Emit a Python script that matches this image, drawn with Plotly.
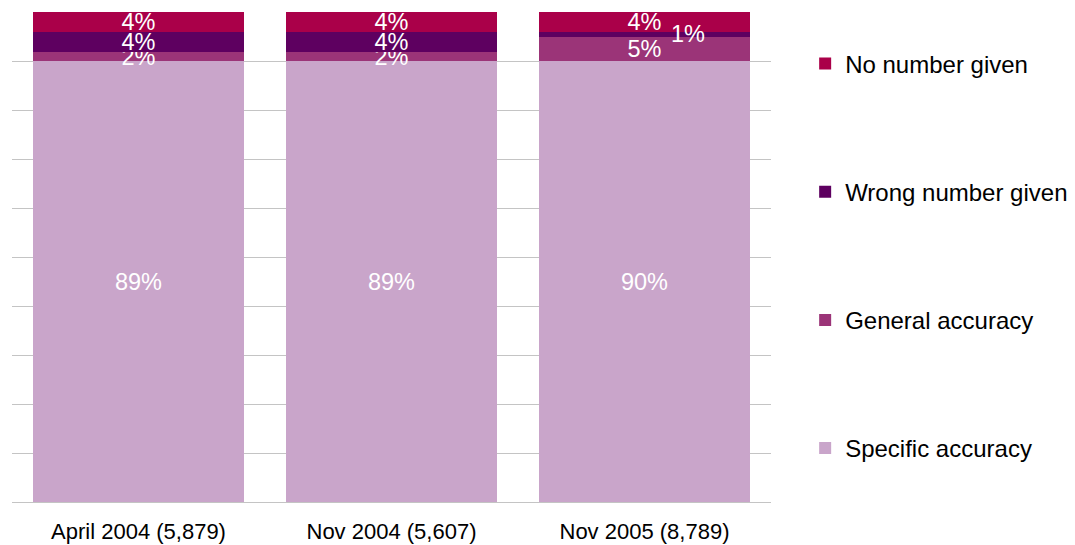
import plotly.graph_objects as go

categories = ["April 2004 (5,879)", "Nov 2004 (5,607)", "Nov 2005 (8,789)"]
series_names = ["Specific accuracy", "General accuracy", "Wrong number given", "No number given"]
specific = [89, 89, 90]
general = [2, 2, 5]
wrong = [4, 4, 1]
no_number = [4, 4, 4]
colors = ["#C9A5CA", "#9B3478", "#5E0060", "#AA0049"]

series_values = [specific, general, wrong, no_number]

FONT = "Liberation Sans, Arial, sans-serif"
LBL = 23.5
fig = go.Figure()
n = len(series_names)
for i, (name, vals, col) in enumerate(zip(series_names, series_values, colors)):
    texts = []
    for c, v in zip(categories, vals):
        if name == "Wrong number given" and c == categories[2]:
            texts.append("")
        else:
            texts.append(f"{v}%")
    fig.add_trace(go.Bar(
        x=categories, y=vals, name=name, marker=dict(color=col, line=dict(width=0)),
        text=texts, texttemplate="%{text}", textposition="inside",
        insidetextanchor="middle", textangle=0,
        textfont=dict(color="white", size=LBL, family=FONT),
        legendgroup=name, legendrank=n - i, hoverinfo="skip",
    ))

# label for the thin "1%" segment, placed beside it
tot3 = specific[2] + general[2] + wrong[2] + no_number[2]
ypos = (specific[2] + general[2] + wrong[2] / 2) / tot3 * 100
fig.add_annotation(x=categories[2], y=ypos, text=f"{wrong[2]}%", showarrow=False,
                   xshift=43, font=dict(color="white", size=LBL, family=FONT))

fig.update_layout(
    barmode="stack", barnorm="percent", bargap=0.166,
    width=1075, height=545,
    margin=dict(l=12, r=304, t=12, b=43, autoexpand=False),
    paper_bgcolor="white", plot_bgcolor="white",
    uniformtext=dict(minsize=LBL, mode="show"),
    font=dict(family=FONT, color="#000000"),
    legend=dict(x=1.045, y=0.94, xanchor="left", yanchor="top",
                traceorder="grouped", tracegroupgap=94,
                font=dict(size=24, family=FONT, color="#000000"),
                itemclick=False),
    xaxis=dict(showgrid=False, showline=False, ticks="", ticklabelstandoff=14,
               automargin=False,
               tickfont=dict(size=22, family=FONT, color="#000000")),
    yaxis=dict(range=[0, 100], dtick=10, showgrid=True, gridcolor="#c4c4c4", gridwidth=1,
               zeroline=True, zerolinecolor="#c4c4c4", zerolinewidth=1,
               showticklabels=False, ticks="", showline=False, automargin=False),
)

fig.write_html("out.html")
